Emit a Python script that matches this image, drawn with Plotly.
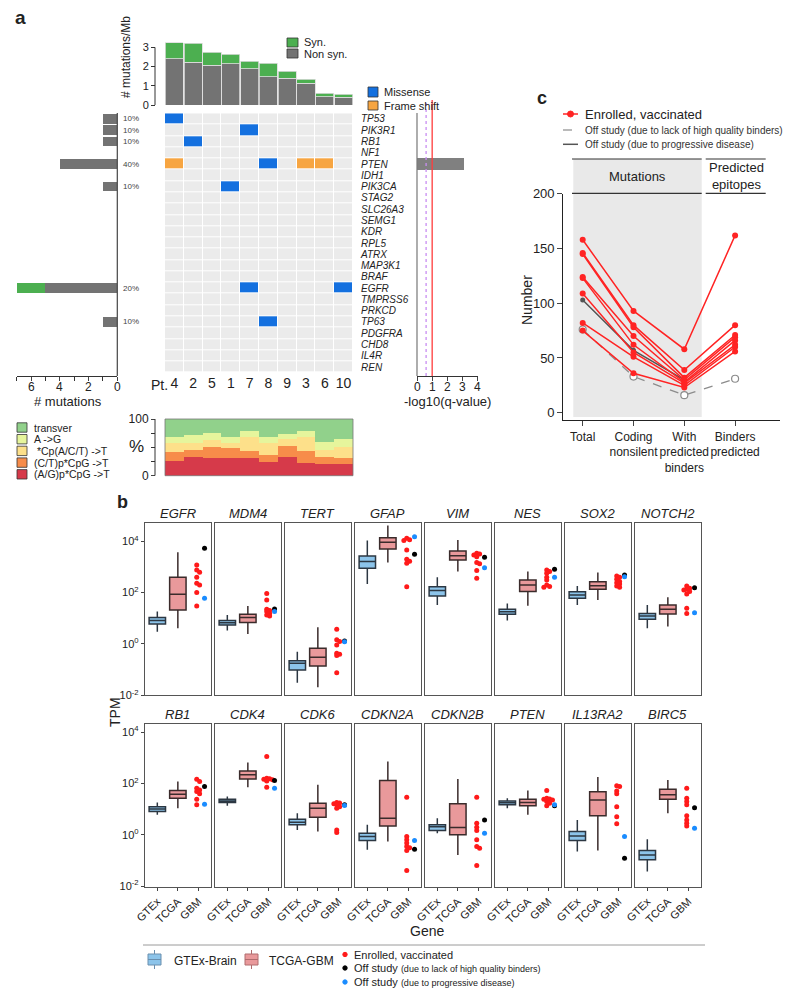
import plotly.graph_objects as go

# page offset of the figure (default body margin) and figure size
OX, OY = 8, 8
FW, FH = 792, 987
def X(px): return (px - OX) / FW
def Y(py): return 1 - (py - OY) / FH
FONT = "Arial, 'Liberation Sans', sans-serif"
DARK = "#222222"

# ---------------- Panel a data ----------------
patients = ["4", "2", "5", "1", "7", "8", "9", "3", "6", "10"]
nonsyn_per_mb = [2.41, 2.22, 2.07, 2.15, 1.88, 1.47, 1.39, 1.13, 0.43, 0.40]
syn_per_mb = [0.83, 0.99, 0.67, 0.49, 0.41, 0.70, 0.36, 0.21, 0.18, 0.17]

genes = ["TP53", "PIK3R1", "RB1", "NF1", "PTEN", "IDH1", "PIK3CA", "STAG2", "SLC26A3",
         "SEMG1", "KDR", "RPL5", "ATRX", "MAP3K1", "BRAF", "EGFR", "TMPRSS6", "PRKCD",
         "TP63", "PDGFRA", "CHD8", "IL4R", "REN"]
missense_hits = [("TP53", "4"), ("PIK3R1", "7"), ("RB1", "2"), ("PTEN", "8"),
                 ("PIK3CA", "1"), ("EGFR", "7"), ("EGFR", "10"), ("TP63", "8")]
frameshift_hits = [("PTEN", "4"), ("PTEN", "3"), ("PTEN", "6")]
gene_nonsyn_count = [1, 1, 1, 0, 4, 0, 1, 0, 0, 0, 0, 0, 0, 0, 0, 5, 0, 0, 1, 0, 0, 0, 0]
gene_syn_count = [0, 0, 0, 0, 0, 0, 0, 0, 0, 0, 0, 0, 0, 0, 0, 2, 0, 0, 0, 0, 0, 0, 0]
gene_pct = ["10%", "10%", "10%", "", "40%", "", "10%", "", "", "", "", "", "", "", "",
            "20%", "", "", "10%", "", "", "", ""]
gene_qvalue = [0, 0, 0, 0, 3.1, 0, 0, 0, 0, 0, 0, 0, 0, 0, 0, 0, 0, 0, 0, 0, 0, 0, 0]
q_threshold_dashed = 0.6
q_threshold_red = 1.0
count_ticks = [0, 2, 4, 6]
q_ticks = [0, 1, 2, 3, 4]

spec_labels = ["transver", "A ->G", " *Cp(A/C/T) ->T", "(C/T)p*CpG ->T", "(A/G)p*CpG ->T"]
spec_AG_CpG = [26, 33, 31, 31, 31, 25, 33, 23, 21, 20]
spec_CT_CpG = [16, 13, 20, 17, 13, 11, 20, 21, 12, 11]
spec_Cp = [15, 12, 12, 9, 25, 21, 11, 24, 12, 20]
spec_AtoG = [12, 14, 13, 11, 10, 12, 9, 11, 15, 13]
spec_transver = [31, 28, 24, 32, 21, 31, 27, 21, 40, 36]

# ---------------- Panel c data ----------------
c_categories = ["Total", "Coding<br>nonsilent", "With<br>predicted<br>binders", "Binders<br>predicted"]
c_enrolled = [[158, 93, 58, 162], [146, 80, 39, 80], [145, 78, 32, 71], [124, 70, 30, 69],
              [123, 62, 28, 66], [109, 55, 27, 62], [82, 51, 25, 60], [75, 36, 23, 56]]
c_off_binders = [76, 33, 16, 31]
c_off_progress = [103, 57, 30]

# ---------------- Panel b data (log10 TPM) ----------------
b_genes = ["EGFR", "MDM4", "TERT", "GFAP", "VIM", "NES", "SOX2", "NOTCH2",
           "RB1", "CDK4", "CDK6", "CDKN2A", "CDKN2B", "PTEN", "IL13RA2", "BIRC5"]
gtex_lo = [0.48, 0.52, -1.51, 2.34, 1.52, 0.91, 1.52, 0.61, 0.78, 1.13, 0.19, -0.58, 0.06, 1.04, -0.65, -1.43]
gtex_q1 = [0.78, 0.74, -1.01, 2.95, 1.87, 1.16, 1.78, 0.96, 0.91, 1.26, 0.39, -0.22, 0.17, 1.17, -0.22, -0.97]
gtex_med = [0.91, 0.83, -0.75, 3.21, 2.08, 1.25, 1.91, 1.09, 1.01, 1.32, 0.49, -0.06, 0.32, 1.25, -0.04, -0.78]
gtex_q3 = [1.03, 0.91, -0.65, 3.43, 2.23, 1.35, 2.03, 1.19, 1.10, 1.39, 0.61, 0.06, 0.39, 1.32, 0.13, -0.61]
gtex_hi = [1.26, 1.13, -0.30, 4.03, 2.60, 1.58, 2.26, 1.52, 1.26, 1.49, 0.84, 0.39, 0.65, 1.43, 0.58, -0.17]
tcga_lo = [0.61, 0.39, -1.69, 3.17, 2.82, 1.49, 1.71, 0.68, 1.04, 1.86, 0.13, -0.26, -0.78, 0.78, -0.61, 0.84]
tcga_q1 = [1.32, 0.84, -0.86, 3.70, 3.27, 2.04, 2.13, 1.17, 1.43, 2.18, 0.69, 0.35, 0.00, 1.13, 0.74, 1.39]
tcga_med = [1.94, 1.03, -0.52, 3.96, 3.44, 2.30, 2.27, 1.35, 1.58, 2.34, 1.04, 0.65, 0.29, 1.26, 1.36, 1.56]
tcga_q3 = [2.60, 1.16, -0.17, 4.14, 3.62, 2.49, 2.42, 1.52, 1.73, 2.49, 1.23, 2.12, 1.21, 1.39, 1.68, 1.78]
tcga_hi = [3.57, 1.48, 0.65, 4.61, 4.05, 2.82, 2.78, 1.82, 2.08, 2.82, 1.95, 2.86, 2.18, 1.73, 2.25, 2.14]
gbm_enrolled = [
    [3.08, 2.88, 2.79, 2.60, 2.36, 2.30, 2.00, 1.48],
    [1.97, 1.71, 1.35, 1.30, 1.26, 1.19, 1.13, 1.09],
    [0.57, 0.16, 0.10, -0.04, -0.36, -0.40, -0.45, -1.12],
    [4.12, 4.06, 4.03, 3.66, 3.30, 3.22, 3.14, 2.23],
    [3.53, 3.50, 3.47, 3.40, 3.17, 3.12, 2.86, 2.56],
    [2.88, 2.82, 2.75, 2.60, 2.49, 2.30, 2.24, 2.21],
    [2.65, 2.60, 2.52, 2.43, 2.38, 2.34, 2.26, 2.21],
    [2.26, 2.17, 2.13, 2.10, 2.04, 1.95, 1.39, 1.19],
    [2.17, 2.08, 1.82, 1.75, 1.69, 1.60, 1.39, 1.17],
    [3.05, 2.21, 2.19, 2.17, 2.15, 2.14, 2.10, 1.86],
    [1.26, 1.24, 1.21, 1.17, 1.10, 1.04, 0.19, 0.09],
    [1.47, -0.06, -0.19, -0.32, -0.45, -0.50, -0.61, -1.39],
    [1.47, 0.45, 0.30, 0.17, -0.19, -0.45, -0.52, -1.19],
    [1.73, 1.43, 1.40, 1.39, 1.36, 1.30, 1.23, 1.13],
    [1.91, 1.88, 1.71, 1.60, 1.10, 0.71, 0.43],
    [1.82, 1.43, 1.30, 1.17, 0.74, 0.58, 0.45, 0.35],
]
gbm_off_binders = [3.73, 1.36, 0.12, 3.49, 3.38, 2.91, 2.69, 2.19, 1.88, 2.12, 1.17, -0.56, 0.58, 1.13, -0.91, 1.06]
gbm_off_progress = [1.78, 1.26, 0.09, 4.18, 2.97, 2.60, 2.62, 1.22, 1.19, 1.82, 1.14, -0.22, 0.06, 1.17, -0.06, 0.26]

# ---------------- figure scaffolding ----------------
traces = []
shapes = [dict(type="rect", xref="paper", yref="paper", x0=0, x1=X(797), y0=0, y1=1,
               fillcolor="white", line=dict(width=0), layer="below")]
annotations = []
layout = dict(width=FW, height=FH, margin=dict(l=0, r=0, t=0, b=0, pad=0, autoexpand=False),
              paper_bgcolor="#eef2fa", plot_bgcolor="rgba(0,0,0,0)",
              showlegend=False, barmode="stack", hovermode=False,
              font=dict(family=FONT, color=DARK, size=11))


def ann(text, px, py, size=11, xanchor="center", yanchor="middle", color=DARK, angle=0):
    annotations.append(dict(text=text, x=X(px), y=Y(py), xref="paper", yref="paper",
                            showarrow=False, xanchor=xanchor, yanchor=yanchor, textangle=angle,
                            font=dict(size=size, color=color, family=FONT)))


def pline(x0, y0, x1, y1, color="#333", width=1.0, dash="solid"):
    shapes.append(dict(type="line", xref="paper", yref="paper", x0=X(x0), y0=Y(y0),
                       x1=X(x1), y1=Y(y1), line=dict(color=color, width=width, dash=dash)))


def prect(x0, y0, x1, y1, fill, line_color="#333", lw=0.8, layer="above"):
    shapes.append(dict(type="rect", xref="paper", yref="paper", x0=X(x0), y0=Y(y1),
                       x1=X(x1), y1=Y(y0), fillcolor=fill,
                       line=dict(color=line_color, width=lw), layer=layer))


def pcircle(cx, cy, r, fill, line_color=None):
    shapes.append(dict(type="circle", xref="paper", yref="paper", x0=X(cx - r), x1=X(cx + r),
                       y0=Y(cy + r), y1=Y(cy - r), fillcolor=fill,
                       line=dict(color=line_color or fill, width=1)))


def axname(i):
    s = "" if i == 1 else str(i)
    return "xaxis" + s, "yaxis" + s, "x" + s, "y" + s

NOAX = dict(showgrid=False, zeroline=False, automargin=False)

# ================= Panel a =================
ann("<b>a</b>", 20, 18, size=19)

# --- top: mutations/Mb
xa, ya, xr, yr = axname(1)
layout[xa] = dict(domain=[X(165), X(353)], range=[-0.5, 9.5], visible=False, anchor=yr)
layout[ya] = dict(domain=[Y(105), Y(105 - 3.3 * 19.2)], range=[0, 3.3], anchor="free", position=X(155),
                  tickvals=[0, 1, 2, 3], ticks="outside", ticklen=4, tickcolor="#333",
                  showline=False, tickfont=dict(size=11), **NOAX)
traces.append(go.Bar(x=list(range(10)), y=nonsyn_per_mb, width=0.96, xaxis=xr, yaxis=yr,
                     marker=dict(color="#737373", line=dict(color="#dcdcdc", width=0.8))))
traces.append(go.Bar(x=list(range(10)), y=syn_per_mb, width=0.96, xaxis=xr, yaxis=yr,
                     marker=dict(color="#4caf50", line=dict(color="#dcdcdc", width=0.8))))
shapes.append(dict(type="line", xref="paper", yref=yr, x0=X(155), x1=X(155), y0=0, y1=3,
                   line=dict(color="#333", width=1)))
ann("# mutations/Mb", 126, 57, size=12, angle=-90)
prect(287, 38, 298, 47, "#4caf50")
ann("Syn.", 302, 42.5, xanchor="left")
prect(287, 49, 298, 58, "#737373")
ann("Non syn.", 302, 53.5, xanchor="left")
prect(368, 87, 378, 97, "#1470df")
ann("Missense", 382, 92, xanchor="left")
prect(368, 101, 378, 110, "#f7a541")
ann("Frame shift", 382, 105.5, xanchor="left")

# --- oncoprint grid
ROW_TOP, ROW_BOT = 113.3, 372.7
xa, ya, xr, yr = axname(2)
z = [[0] * len(patients) for _ in genes]
for g, p in missense_hits:
    z[genes.index(g)][patients.index(p)] = 1
for g, p in frameshift_hits:
    z[genes.index(g)][patients.index(p)] = 2
traces.append(go.Heatmap(z=z, x=list(range(10)), y=list(range(len(genes))), xaxis=xr, yaxis=yr,
                         zmin=0, zmax=2, showscale=False, xgap=1, ygap=1,
                         colorscale=[[0, "#ebebeb"], [0.33, "#ebebeb"], [0.34, "#1470df"],
                                     [0.66, "#1470df"], [0.67, "#f7a541"], [1, "#f7a541"]]))
layout[xa] = dict(domain=[X(165), X(353)], range=[-0.5, 9.5], anchor=yr,
                  tickvals=list(range(10)), ticktext=patients, ticks="", showline=False,
                  tickfont=dict(size=14), **NOAX)
layout[ya] = dict(domain=[Y(ROW_BOT), Y(ROW_TOP)], range=[len(genes) - 0.5, -0.5], anchor=xr,
                  side="right", tickvals=list(range(len(genes))),
                  ticktext=["<i>%s</i>" % g for g in genes], ticks="outside", ticklen=5,
                  tickcolor="rgba(0,0,0,0)", tickfont=dict(size=10), showline=False, **NOAX)
ann("Pt.", 170, 385, size=14, xanchor="right")

# --- left: # mutations per gene
xa, ya, xr, yr = axname(3)
layout[xa] = dict(domain=[X(16.7), X(117.3)], range=[7, 0], anchor="free", position=Y(376),
                  tickvals=count_ticks, showticklabels=False, ticks="outside", ticklen=4, showline=True,
                  linecolor="#333", linewidth=1,
                  minor=dict(tickvals=[1, 3, 5, 7], ticks="outside", ticklen=4, tickcolor="#333"),
                  **NOAX)
layout[ya] = dict(domain=[Y(ROW_BOT), Y(ROW_TOP)], range=[len(genes) - 0.5, -0.5], anchor=xr, visible=False)
traces.append(go.Bar(x=gene_nonsyn_count, y=list(range(len(genes))), orientation="h", width=0.85,
                     xaxis=xr, yaxis=yr, marker=dict(color="#737373", line=dict(width=0))))
traces.append(go.Bar(x=gene_syn_count, y=list(range(len(genes))), orientation="h", width=0.85,
                     xaxis=xr, yaxis=yr, marker=dict(color="#4caf50", line=dict(width=0))))
for t in count_ticks:
    annotations.append(dict(text=str(t), x=t, xref=xr, y=Y(387), yref="paper", showarrow=False,
                            xanchor="center", yanchor="middle", font=dict(size=12, color=DARK, family=FONT)))
pline(117.3, 113, 117.3, 376, "#444", 1.2)
for i, p in enumerate(gene_pct):
    if p:
        annotations.append(dict(text=p, x=X(121), xref="paper", y=i, yref=yr, xanchor="left",
                                showarrow=False, font=dict(size=8, color="#444", family=FONT)))
ann("# mutations", 68, 401, size=13)

# --- right: -log10(q)
xa, ya, xr, yr = axname(4)
layout[xa] = dict(domain=[X(417), X(477.7)], range=[0, 4], anchor="free", position=Y(376),
                  tickvals=q_ticks, showticklabels=False, ticks="outside", ticklen=4, showline=True,
                  linecolor="#333", linewidth=1, **NOAX)
layout[ya] = dict(domain=[Y(ROW_BOT), Y(ROW_TOP)], range=[len(genes) - 0.5, -0.5], anchor=xr, visible=False)
traces.append(go.Bar(x=gene_qvalue, y=list(range(len(genes))), orientation="h", width=1.0,
                     xaxis=xr, yaxis=yr, marker=dict(color="#808080", line=dict(width=0))))
for t in q_ticks:
    annotations.append(dict(text=str(t), x=t, xref=xr, y=Y(387), yref="paper", showarrow=False,
                            xanchor="center", yanchor="middle", font=dict(size=12, color=DARK, family=FONT)))
pline(417, 113, 417, 376, "#777", 1.2)
shapes.append(dict(type="line", xref=xr, yref="paper", x0=q_threshold_dashed, x1=q_threshold_dashed,
                   y0=Y(376), y1=Y(100), line=dict(color="#c98cf2", width=1.3, dash="dot")))
shapes.append(dict(type="line", xref=xr, yref="paper", x0=q_threshold_red, x1=q_threshold_red,
                   y0=Y(376), y1=Y(100), line=dict(color="#ff3b3b", width=1.3)))
ann("-log10(q-value)", 447, 401, size=13)

# --- mutation spectrum
xa, ya, xr, yr = axname(5)
layout[xa] = dict(domain=[X(165), X(353)], range=[-0.5, 9.5], visible=False, anchor=yr)
layout[ya] = dict(domain=[Y(475.7), Y(419)], range=[0, 100], anchor="free", position=X(155),
                  tickvals=[0, 100], ticks="outside", ticklen=4, showline=False, tickfont=dict(size=12),
                  minor=dict(tickvals=[25, 50, 75], ticks="outside", ticklen=4, tickcolor="#333"),
                  **NOAX)
spec_colors = ["#91d18b", "#e6f59c", "#fde08a", "#f78c4a", "#d63a4a"]
spec_layers = [spec_AG_CpG, spec_CT_CpG, spec_Cp, spec_AtoG, spec_transver]
for vals, col in zip(spec_layers, spec_colors[::-1]):
    traces.append(go.Bar(x=list(range(10)), y=vals, width=1.0, xaxis=xr, yaxis=yr,
                         marker=dict(color=col, line=dict(width=0))))
shapes.append(dict(type="line", xref="paper", yref=yr, x0=X(155), x1=X(155), y0=0, y1=100,
                   line=dict(color="#333", width=1)))
prect(165, 419, 353, 475.7, "rgba(0,0,0,0)", "#777", 0.8)
ann("%", 136, 447, size=17)
for i, (lbl, col) in enumerate(zip(spec_labels, spec_colors)):
    py = 427.5 + 11.7 * i
    prect(17, py - 4.7, 27, py + 4.7, col, "#333", 0.8)
    ann(lbl, 32, py, size=10.5, xanchor="left")

# ================= Panel c =================
C_X1, C_DX = 582.7, 50.8
def cx(px): return 1 + (px - C_X1) / C_DX
xa, ya, xr, yr = axname(6)
layout[xa] = dict(domain=[X(563.3), X(780)], range=[cx(563.3), cx(780)], anchor=yr,
                  tickvals=[1, 2, 3, 4], ticktext=c_categories, ticks="outside", ticklen=5,
                  tickangle=0, showline=True, linecolor="#222", linewidth=1.2,
                  tickfont=dict(size=12), **NOAX)
layout[ya] = dict(domain=[Y(420), Y(193.5)], range=[-6.7, 200.3], anchor=xr,
                  tickvals=[0, 50, 100, 150, 200], ticks="outside", ticklen=5,
                  showline=True, linecolor="#222", linewidth=1.2, tickfont=dict(size=13), **NOAX)
shapes.append(dict(type="rect", xref=xr, yref="paper", x0=cx(573.3), x1=cx(701.7),
                   y0=Y(417), y1=Y(159), fillcolor="#e9e9e9", line=dict(width=0), layer="below"))
for y_ in (159, 193.3):
    shapes.append(dict(type="line", xref=xr, yref="paper", x0=cx(572), x1=cx(701.7), y0=Y(y_), y1=Y(y_),
                       line=dict(color="#333", width=1.2)))
    shapes.append(dict(type="line", xref=xr, yref="paper", x0=cx(705.7), x1=cx(765.7), y0=Y(y_), y1=Y(y_),
                       line=dict(color="#333", width=1.2)))
ann("Mutations", 637, 176, size=13)
ann("Predicted<br>epitopes", 736, 176, size=13)
ann("Number", 527, 300, size=14, angle=-90)
ann("<b>c</b>", 542, 98, size=18)

traces.append(go.Scatter(x=[1, 2, 3, 4], y=c_off_binders, mode="lines+markers", xaxis=xr, yaxis=yr,
                         line=dict(color="#8c8c8c", width=1.3, dash="dash"),
                         marker=dict(symbol="circle", size=7, color="white",
                                     line=dict(color="#8c8c8c", width=1.2))))
traces.append(go.Scatter(x=[1, 2, 3], y=c_off_progress, mode="lines+markers", xaxis=xr, yaxis=yr,
                         line=dict(color="#555555", width=1.5),
                         marker=dict(size=5, color="#555555")))
for vals in c_enrolled:
    traces.append(go.Scatter(x=[1, 2, 3, 4], y=vals, mode="lines+markers", xaxis=xr, yaxis=yr,
                             line=dict(color="#ff2424", width=1.5),
                             marker=dict(size=6, color="#ff2424")))

pline(563, 114, 578, 114, "#ff2424", 1.5)
pcircle(570.5, 114, 3, "#ff2424")
ann("Enrolled, vaccinated", 583, 114, size=13, xanchor="left")
pline(563, 130, 578, 130, "#8c8c8c", 1.2, "dash")
ann("Off study (due to lack of high quality binders)", 583, 130, size=10, xanchor="left", color="#333")
pline(563, 144.3, 578, 144.3, "#555", 1.5)
ann("Off study (due to progressive disease)", 583, 144.3, size=10, xanchor="left", color="#333")

# ================= Panel b =================
ann("<b>b</b>", 122, 502, size=18)
row_dom = [(523.3, 695.3), (724, 886.7)]
row_rng = [(-2.0, 4.70), (-2.02, 4.32)]
title_py = [513, 714]


def dot_positions(vals, base=1.92, step=0.14):
    xs = []
    for i, v in enumerate(vals):
        chosen = base
        for off in (0, step, -step, 2 * step):
            ok = all(not (abs(v - vals[j]) < 0.09 and abs(xs[j] - (base + off)) < 1e-9) for j in range(i))
            if ok:
                chosen = base + off
                break
        xs.append(chosen)
    return xs

for gi, g in enumerate(b_genes):
    r, c = divmod(gi, 8)
    idx = 7 + gi
    xa, ya, xr, yr = axname(idx)
    x0 = 145 + 70 * c
    x1 = x0 + 65.7
    top, bot = row_dom[r]
    layout[xa] = dict(domain=[X(x0), X(x1)], range=[-0.6, 2.6], anchor=yr,
                      tickvals=[0, 1, 2], ticktext=["GTEx", "TCGA", "GBM"],
                      showticklabels=(r == 1), ticks="outside" if r == 1 else "", ticklen=3,
                      tickangle=-45, tickfont=dict(size=11), showline=True, mirror=True,
                      linecolor="#555", linewidth=1.3, **NOAX)
    layout[ya] = dict(domain=[Y(bot), Y(top)], range=list(row_rng[r]), anchor=xr,
                      tickvals=[-2, 0, 2, 4],
                      ticktext=["10<sup>-2</sup>", "10<sup>0</sup>", "10<sup>2</sup>", "10<sup>4</sup>"],
                      showticklabels=(c == 0), ticks="outside" if c == 0 else "", ticklen=3,
                      tickfont=dict(size=11), showline=True, mirror=True,
                      linecolor="#555", linewidth=1.3, **NOAX)
    ann("<i>%s</i>" % g, (x0 + x1) / 2, title_py[r], size=13)
    traces.append(go.Box(x=[0], q1=[gtex_q1[gi]], median=[gtex_med[gi]], q3=[gtex_q3[gi]],
                         lowerfence=[gtex_lo[gi]], upperfence=[gtex_hi[gi]], width=0.8,
                         whiskerwidth=0, boxpoints=False, fillcolor="#8cc4ea",
                         line=dict(color="#2c3742", width=1.5), xaxis=xr, yaxis=yr))
    traces.append(go.Box(x=[1], q1=[tcga_q1[gi]], median=[tcga_med[gi]], q3=[tcga_q3[gi]],
                         lowerfence=[tcga_lo[gi]], upperfence=[tcga_hi[gi]], width=0.8,
                         whiskerwidth=0, boxpoints=False, fillcolor="#e9999b",
                         line=dict(color="#3a2b2b", width=1.5), xaxis=xr, yaxis=yr))
    ev = gbm_enrolled[gi]
    traces.append(go.Scatter(x=dot_positions(ev), y=ev, mode="markers", xaxis=xr, yaxis=yr,
                             marker=dict(size=5, color="#ff1a1a")))
    traces.append(go.Scatter(x=[2.3], y=[gbm_off_binders[gi]], mode="markers", xaxis=xr, yaxis=yr,
                             marker=dict(size=5, color="#000000")))
    traces.append(go.Scatter(x=[2.3], y=[gbm_off_progress[gi]], mode="markers", xaxis=xr, yaxis=yr,
                             marker=dict(size=5, color="#1a8cff")))

ann("TPM", 115, 712, size=14, angle=-90)
ann("Gene", 427, 931, size=14)
pline(143, 945, 705, 945, "#9a9a9a", 1)

# bottom legend
def box_icon(x0, x1, fill, line):
    xm = (x0 + x1) / 2
    pline(xm, 950, xm, 954, line, 1)
    pline(xm, 965, xm, 969, line, 1)
    prect(x0, 954, x1, 965, fill, line, 1)
    pline(x0, 959.5, x1, 959.5, line, 1)

box_icon(148, 161, "#8cc4ea", "#6a8fae")
ann("GTEx-Brain", 171.7, 961, size=12, xanchor="left")
box_icon(245, 258, "#e9999b", "#b06c6e")
ann("TCGA-GBM", 266.7, 961, size=12, xanchor="left")
pcircle(345, 954.5, 2.2, "#ff1a1a")
ann("Enrolled, vaccinated", 351.5, 955, size=11, xanchor="left")
pcircle(345, 968, 2.2, "#000000")
ann("Off study <span style='font-size:9px'>(due to lack of high quality binders)</span>", 351.5, 968, size=11, xanchor="left")
pcircle(345, 982, 2.2, "#1a8cff")
ann("Off study <span style='font-size:9px'>(due to progressive disease)</span>", 351.5, 982, size=11, xanchor="left")

layout["shapes"] = shapes
layout["annotations"] = annotations
fig = go.Figure(data=traces, layout=layout)
fig.write_html("out.html")
